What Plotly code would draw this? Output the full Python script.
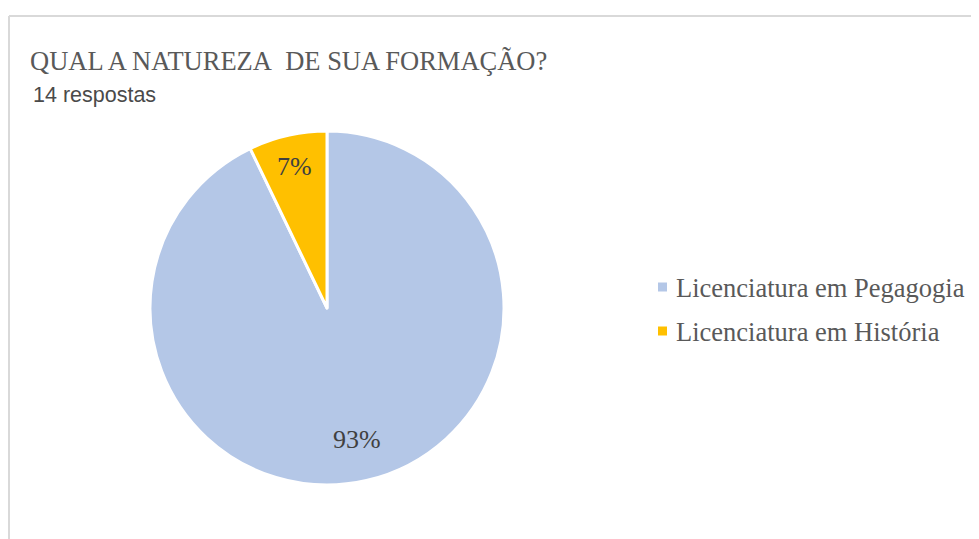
import math
import plotly.graph_objects as go

labels = ["Licenciatura em Pegagogia", "Licenciatura em História"]
values = [13, 1]
colors = ["#B4C7E7", "#FFC000"]
label_radius = [0.76, 0.82]   # where the percent text sits, as share of the radius
title = "QUAL A NATUREZA&nbsp; DE SUA FORMAÇÃO?"
subtitle = "14 respostas"

# the page puts the figure 8px in from the top-left corner
OFF = 8
W, H = 979 - OFF, 539 - OFF
serif = "Liberation Serif, Times New Roman, serif"
sans = "Liberation Sans, Arial, sans-serif"


def px(x):
    return (x - OFF) / W


def py(y):
    return 1 - (y - OFF) / H


pie_left, pie_right, pie_top, pie_bottom = 150, 504, 131, 485

fig = go.Figure()
fig.add_trace(go.Pie(
    labels=labels,
    values=values,
    marker=dict(colors=colors, line=dict(color="white", width=3)),
    sort=False,
    direction="clockwise",
    rotation=0,
    textinfo="none",
    domain=dict(x=[px(pie_left), px(pie_right)], y=[py(pie_bottom), py(pie_top)]),
    showlegend=False,
    hoverinfo="label+percent",
))

# percent labels, placed at each slice's middle angle
cx, cy = (pie_left + pie_right) / 2, (pie_top + pie_bottom) / 2
R = (pie_right - pie_left) / 2
total = sum(values)
cum = 0
for v, rf in zip(values, label_radius):
    ang = math.radians(90 - 360 * (cum + v / 2) / total)
    cum += v
    fig.add_annotation(text=f"{round(100 * v / total)}%", xref="paper", yref="paper",
                       x=px(cx + rf * R * math.cos(ang)), y=py(cy - rf * R * math.sin(ang)),
                       xanchor="center", yanchor="middle", showarrow=False,
                       font=dict(family=serif, size=26, color="#404040"))

# legend drawn by hand so the row spacing matches
for i, (lab, col) in enumerate(zip(labels, colors)):
    yc = 287 + 44 * i
    fig.add_shape(type="rect", xref="paper", yref="paper",
                  x0=px(658), x1=px(667), y0=py(yc + 4.5), y1=py(yc - 4.5),
                  fillcolor=col, line=dict(width=0))
    fig.add_annotation(text=lab, xref="paper", yref="paper", x=px(674), y=py(yc + 1),
                       xanchor="left", yanchor="middle", showarrow=False,
                       font=dict(family=serif, size=26.5, color="#595959"))

fig.add_annotation(text=title, xref="paper", yref="paper", x=px(28), y=py(61),
                   xanchor="left", yanchor="middle", showarrow=False,
                   font=dict(family=serif, size=26.5, color="#595959"))
fig.add_annotation(text=subtitle, xref="paper", yref="paper", x=px(31), y=py(95),
                   xanchor="left", yanchor="middle", showarrow=False,
                   font=dict(family=sans, size=21.5, color="#4A4A4A"))

# frame lines at top and left
fig.add_shape(type="line", xref="paper", yref="paper", x0=px(9), x1=1, y0=py(16), y1=py(16),
              line=dict(color="#D9D9D9", width=2))
fig.add_shape(type="line", xref="paper", yref="paper", x0=px(9), x1=px(9), y0=0, y1=py(16),
              line=dict(color="#D9D9D9", width=2))

fig.update_layout(
    width=W, height=H,
    margin=dict(l=0, r=0, t=0, b=0),
    paper_bgcolor="white",
    plot_bgcolor="white",
)

fig.write_html("out.html")
